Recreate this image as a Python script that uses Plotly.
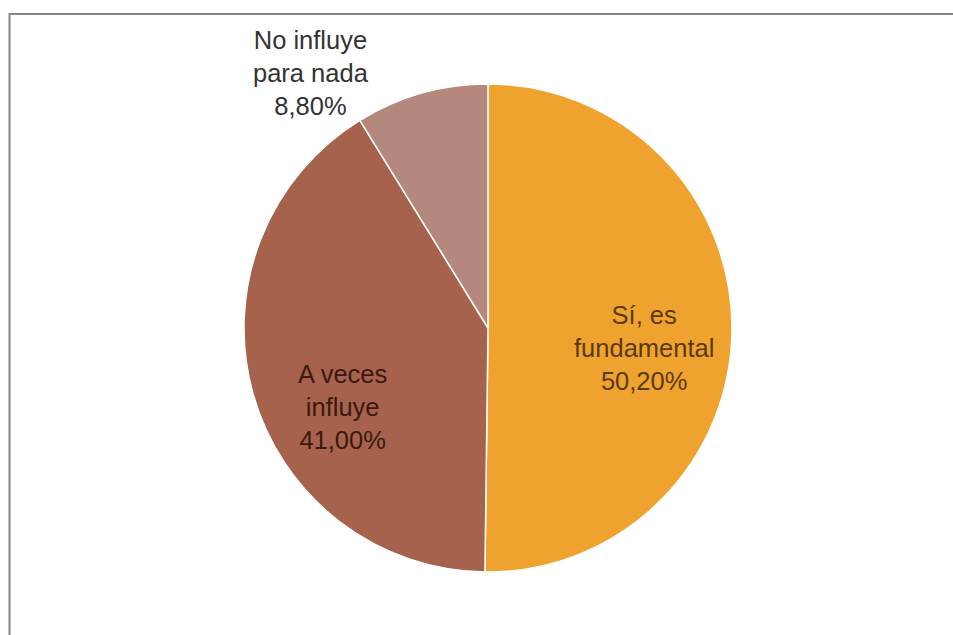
import plotly.graph_objects as go

# Survey answers and their shares (%)
categories = ["Sí, es fundamental", "A veces influye", "No influye para nada"]
label_lines = [["Sí, es", "fundamental"], ["A veces", "influye"], ["No influye", "para nada"]]
shares = [50.2, 41.0, 8.8]

slice_colors = ["#F0A22F", "#A6624C", "#B5887D"]
label_colors = ["#5A3A08", "#3A1A10", "#333333"]
# label anchor points in pixel space of the 953x635 page
label_px = [(644, 348), (342, 407), (311, 73)]

W, H = 953, 635
cx, cy, r = 488, 328, 244

fig = go.Figure(go.Pie(
    labels=categories,
    values=shares,
    sort=False,
    direction="clockwise",
    rotation=0,
    textinfo="none",
    hoverinfo="label+percent",
    marker=dict(colors=slice_colors, line=dict(color="#FFFFFF", width=1.5)),
    domain=dict(x=[(cx - r) / W, (cx + r) / W], y=[(H - cy - r) / H, (H - cy + r) / H]),
    showlegend=False,
))

def fmt(v):
    return f"{v:.2f}".replace(".", ",") + "%"

for lines, v, col, (px, py) in zip(label_lines, shares, label_colors, label_px):
    fig.add_annotation(
        x=px / W, y=1 - py / H, xref="paper", yref="paper",
        text="<br>".join(lines + [fmt(v)]),
        showarrow=False, xanchor="center", yanchor="middle", align="center",
        font=dict(family="Liberation Sans, Arial, sans-serif", size=25.5, color=col),
    )

# chart frame
fig.add_shape(type="rect", xref="paper", yref="paper",
              x0=9.5 / W, y0=-0.05, x1=1.05, y1=1 - 14 / H,
              line=dict(color="#858585", width=2), fillcolor="rgba(0,0,0,0)", layer="below")

fig.update_layout(
    width=W, height=H,
    margin=dict(l=0, r=0, t=0, b=0),
    paper_bgcolor="#FFFFFF",
    plot_bgcolor="#FFFFFF",
)

fig.write_html("out.html")
